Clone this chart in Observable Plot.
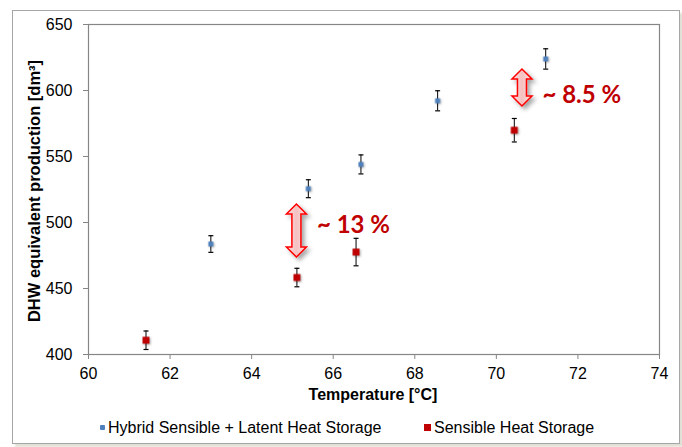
<!DOCTYPE html>
<html>
<head>
<meta charset="utf-8">
<script src="https://cdn.jsdelivr.net/npm/d3@7"></script>
<script src="https://cdn.jsdelivr.net/npm/@observablehq/plot@0.6"></script>
<style>
  html, body { margin: 0; padding: 0; background: #fff; }
  #chart {
    position: absolute; left: 12px; top: 10px; width: 668px; height: 434px;
    box-sizing: border-box; border: 1px solid #A6A6A6; background: #fff;
    box-shadow: 3px 3px 2px #E2E0D6;
    font-family: "Liberation Sans", Arial, sans-serif;
  }
  #chart svg { position: absolute; left: 0; top: 0; }
  .leg { position: absolute; top: 406px; font-size: 16px; color: #000; line-height: 22px; white-space: nowrap; }
  .sw { display: inline-block; vertical-align: middle; margin-right: 3px; position: relative; top: -1px; }
</style>
</head>
<body>
<div id="chart">
  <div class="leg" style="left:87px"><span class="sw" style="width:5px;height:5px;background:#4F81BD;border-radius:1px"></span>Hybrid Sensible + Latent Heat Storage</div>
  <div class="leg" style="left:411px"><span class="sw" style="width:7px;height:7px;background:#C00000"></span>Sensible Heat Storage</div>
</div>
<script>
// Data
const hybridTemp = [63.0, 65.39, 66.68, 68.56, 71.21];
const hybridProd = [483.7, 525.6, 544.0, 592.2, 623.9];
const hybridErr  = [6.3, 6.8, 7.2, 7.6, 7.7];

const sensibleTemp = [61.41, 65.11, 66.56, 70.44];
const sensibleProd = [410.8, 458.3, 477.6, 569.9];
const sensibleErr  = [7.0, 7.0, 10.4, 8.9];

const xTicks = [60, 62, 64, 66, 68, 70, 72, 74];
const yTicks = [400, 450, 500, 550, 600, 650];

const arrowX   = [65.11, 70.64];
const arrowTop = [513.6, 615.9];
const arrowBot = [473.5, 587.9];
const labelX   = [65.60, 71.13];
const labelY   = [497.7, 596.2];
const labelText = ["~ 13 %", "~ 8.5 %"];

const hybrid = hybridTemp.map((t, i) => ({t, v: hybridProd[i], e: hybridErr[i]}));
const sensible = sensibleTemp.map((t, i) => ({t, v: sensibleProd[i], e: sensibleErr[i]}));
const caps = [...hybrid, ...sensible].flatMap(d => [{t: d.t, v: d.v - d.e}, {t: d.t, v: d.v + d.e}]);
const arrows = arrowX.map((x, i) => ({x, yt: arrowTop[i], yb: arrowBot[i]}));
const labels = labelX.map((x, i) => ({x, y: labelY[i], text: labelText[i]}));

const capSymbol = {
  draw(context) { context.moveTo(-2.5, 0); context.lineTo(2.5, 0); }
};

function arrowRender(index, scales) {
  const g = d3.create("svg:g");
  const defs = g.append("defs");
  const grad = defs.append("linearGradient").attr("id", "pinkGrad").attr("x1", "0").attr("x2", "1").attr("y1", "0").attr("y2", "0");
  grad.append("stop").attr("offset", "0%").attr("stop-color", "#FCE4E4");
  grad.append("stop").attr("offset", "50%").attr("stop-color", "#F5C0C0");
  grad.append("stop").attr("offset", "100%").attr("stop-color", "#FCE4E4");
  const f = defs.append("filter").attr("id", "arrShadow").attr("x", "-50%").attr("y", "-20%").attr("width", "200%").attr("height", "140%");
  f.append("feDropShadow").attr("dx", 3).attr("dy", 3).attr("stdDeviation", 2).attr("flood-color", "#000").attr("flood-opacity", 0.35);
  const hw = 10, sw = 4.5, hl = 10;
  for (const a of arrows) {
    const cx = scales.x(a.x), yt = scales.y(a.yt), yb = scales.y(a.yb);
    const pts = [[cx, yt], [cx + hw, yt + hl], [cx + sw, yt + hl], [cx + sw, yb - hl], [cx + hw, yb - hl],
                 [cx, yb], [cx - hw, yb - hl], [cx - sw, yb - hl], [cx - sw, yt + hl], [cx - hw, yt + hl]];
    g.append("path")
      .attr("d", "M" + pts.map(p => p.join(",")).join("L") + "Z")
      .attr("fill", "url(#pinkGrad)")
      .attr("stroke", "#FF0000")
      .attr("stroke-width", 1.5)
      .attr("stroke-linejoin", "miter")
      .attr("filter", "url(#arrShadow)");
  }
  return g.node();
}

const svg = Plot.plot({
  width: 666, height: 400,
  marginLeft: 75, marginRight: 20, marginTop: 13, marginBottom: 57,
  style: {fontFamily: "'Liberation Sans', Arial, sans-serif", fontSize: "16px", background: "transparent", color: "#000"},
  x: {domain: [60, 74], label: null},
  y: {domain: [400, 650], label: null},
  marks: [
    Plot.axisX({ticks: xTicks, tickSize: 5, tickPadding: 8, stroke: "#868686", fill: "#000", fontSize: 16, label: null}),
    Plot.axisY({ticks: yTicks, tickSize: 5, tickPadding: 11, stroke: "#868686", fill: "#000", fontSize: 16, label: null}),
    Plot.frame({stroke: "#868686", strokeWidth: 1.2}),
    arrowRender,
    Plot.text(labels, {x: "x", y: "y", text: "text", textAnchor: "start", fill: "#C00000",
      fontSize: 24, fontWeight: "bold", fontFamily: "Lato, 'DejaVu Sans Condensed', sans-serif"}),
    Plot.ruleX([...hybrid, ...sensible], {x: "t", y1: d => d.v - d.e, y2: d => d.v + d.e, stroke: "#000", strokeWidth: 1}),
    Plot.dot(caps, {x: "t", y: "v", symbol: capSymbol, stroke: "#000", strokeWidth: 1.2}),
    Plot.dot(hybrid, {x: "t", y: "v", symbol: "square", r: 2.8, fill: "#4F81BD", stroke: null,
      imageFilter: "drop-shadow(1px 1px 1px rgba(0,0,0,0.3))"}),
    Plot.dot(sensible, {x: "t", y: "v", symbol: "square", r: 3.9, fill: "#C00000", stroke: null,
      imageFilter: "drop-shadow(1.5px 1.5px 1px rgba(0,0,0,0.35))"})
  ]
});

const s = d3.select(svg);
s.append("text")
  .attr("transform", "translate(23,180) rotate(-90)")
  .attr("text-anchor", "middle").attr("dominant-baseline", "middle")
  .attr("font-size", 16.5).attr("font-weight", "bold").attr("fill", "#000")
  .text("DHW equivalent production [dm³]");
s.append("text")
  .attr("x", 360).attr("y", 385)
  .attr("text-anchor", "middle").attr("dominant-baseline", "middle")
  .attr("font-size", 16).attr("font-weight", "bold").attr("fill", "#000")
  .text("Temperature [°C]");

document.getElementById("chart").appendChild(svg);
</script>
</body>
</html>
